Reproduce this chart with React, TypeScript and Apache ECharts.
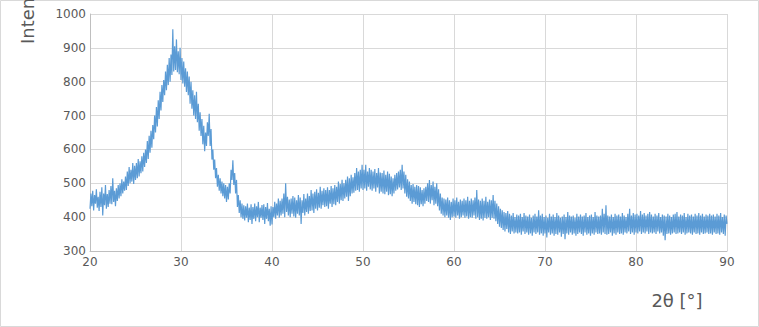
import React, { useEffect, useRef } from "react";
import * as echarts from "echarts";

const startAngle = 20;
const stepAngle = 0.1;

const int20s = [
  425, 470, 432, 478, 420, 465, 440, 482, 428, 460,
  418, 475, 430, 488, 405, 470, 435, 495, 425, 468,
  430, 480, 440, 492, 438, 515, 445, 478, 432, 485,
  448, 495, 455, 500, 462, 512, 470, 505, 478, 520,
  480, 535, 492, 548, 500, 540, 505, 560, 498, 552,
  510, 560, 515, 572, 520, 565, 530, 580, 535, 590,
  548, 600, 560, 625, 572, 640, 590, 655, 605, 672,
  630, 700, 650, 725, 668, 745, 690, 770, 715, 790,
  740, 805, 760, 830, 775, 850, 790, 870, 800, 880,
  820, 955, 830, 905, 835, 925, 828, 890, 822, 900,
];
const int30s = [
  805, 870, 795, 860, 785, 840, 770, 830, 760, 815,
  735, 800, 720, 775, 700, 760, 690, 770, 680, 735,
  655, 710, 640, 690, 615, 670, 595, 650, 610, 680,
  640, 705, 610, 660, 570, 600, 540, 570, 515, 545,
  490, 525, 478, 515, 470, 505, 462, 500, 455, 495,
  445, 490, 452, 500, 470, 540, 510, 568, 495, 530,
  470, 510, 430, 465, 412, 450, 400, 440, 395, 435,
  390, 432, 398, 440, 385, 428, 392, 438, 380, 430,
  395, 440, 388, 432, 400, 445, 385, 428, 398, 436,
  392, 438, 380, 430, 395, 442, 388, 425, 375, 432,
];
const int40s = [
  378, 430, 400, 445, 395, 440, 405, 455, 398, 448,
  405, 455, 410, 470, 400, 500, 415, 460, 405, 452,
  400, 455, 410, 462, 402, 458, 398, 450, 410, 465,
  405, 458, 380, 450, 412, 468, 405, 455, 415, 470,
  410, 462, 418, 480, 420, 470, 412, 475, 425, 482,
  420, 472, 428, 490, 425, 478, 435, 485, 430, 480,
  432, 488, 425, 480, 440, 492, 430, 485, 438, 495,
  435, 490, 445, 505, 440, 498, 450, 510, 448, 500,
  455, 510, 460, 520, 448, 515, 462, 525, 470, 518,
  472, 530, 478, 545, 480, 535, 475, 540, 485, 555,
];
const int50s = [
  480, 540, 485, 555, 478, 535, 490, 545, 482, 540,
  478, 535, 485, 542, 475, 530, 488, 545, 470, 532,
  475, 530, 470, 538, 468, 525, 475, 535, 465, 528,
  468, 520, 462, 515, 470, 525, 478, 530, 482, 535,
  488, 540, 480, 555, 485, 535, 470, 525, 460, 512,
  455, 505, 448, 495, 440, 498, 445, 490, 438, 495,
  435, 492, 430, 488, 438, 480, 432, 485, 440, 490,
  448, 500, 445, 510, 440, 495, 450, 505, 435, 490,
  440, 500, 432, 482, 420, 470, 410, 458, 405, 455,
  400, 452, 405, 458, 398, 450, 392, 445, 400, 455,
];
const int60s = [
  402, 450, 398, 458, 405, 445, 395, 452, 400, 448,
  405, 455, 398, 450, 402, 460, 395, 448, 400, 455,
  398, 450, 405, 458, 395, 480, 400, 452, 392, 448,
  395, 455, 390, 448, 398, 460, 395, 445, 400, 452,
  392, 450, 398, 465, 395, 448, 388, 440, 380, 432,
  372, 425, 368, 420, 362, 415, 358, 412, 365, 418,
  355, 410, 350, 405, 358, 412, 352, 400, 355, 408,
  352, 405, 355, 410, 348, 400, 358, 412, 350, 405,
  355, 402, 348, 408, 352, 398, 345, 405, 355, 410,
  350, 402, 355, 420, 348, 405, 352, 410, 345, 400,
];
const int70s = [
  352, 405, 340, 398, 355, 410, 348, 402, 352, 408,
  345, 400, 350, 412, 348, 405, 355, 398, 342, 402,
  350, 408, 335, 400, 352, 415, 348, 405, 355, 402,
  348, 405, 352, 398, 345, 410, 350, 402, 355, 408,
  350, 402, 345, 405, 355, 412, 348, 400, 352, 405,
  345, 408, 352, 400, 348, 415, 355, 405, 350, 402,
  352, 405, 348, 425, 355, 410, 350, 435, 348, 405,
  350, 402, 355, 408, 345, 400, 352, 410, 348, 405,
  355, 408, 350, 402, 352, 412, 348, 405, 355, 400,
  352, 410, 358, 425, 350, 405, 355, 412, 348, 408,
];
const int80s = [
  355, 410, 352, 405, 358, 418, 350, 408, 355, 412,
  352, 405, 358, 410, 350, 415, 355, 408, 352, 402,
  355, 410, 350, 405, 358, 412, 352, 400, 355, 408,
  345, 405, 332, 402, 350, 410, 352, 405, 348, 400,
  352, 408, 355, 410, 350, 415, 352, 402, 355, 408,
  350, 405, 355, 412, 348, 400, 352, 410, 355, 405,
  352, 408, 348, 402, 355, 410, 350, 405, 352, 412,
  348, 405, 355, 410, 350, 402, 352, 408, 355, 405,
  350, 410, 352, 405, 348, 408, 355, 402, 350, 410,
  352, 405, 348, 412, 355, 400, 350, 408, 345, 405,
  380,
];

const xTicks = { min: 20, max: 90, interval: 10 };
const yTicks = { min: 300, max: 1000, interval: 100 };

export default function App() {
  const ref = useRef<HTMLDivElement>(null);
  useEffect(() => {
    if (!ref.current) return;
    const chart = echarts.init(ref.current, null, { renderer: "svg" });
    const all = [...int20s, ...int30s, ...int40s, ...int50s, ...int60s, ...int70s, ...int80s];
    const data = all.map((v, i) => [+(startAngle + i * stepAngle).toFixed(2), v]);
    const font = "DejaVu Sans";
    chart.setOption({
      animation: false,
      backgroundColor: "#ffffff",
      grid: { left: 90, right: 32, top: 14, bottom: 76, containLabel: false },
      xAxis: {
        type: "value",
        min: xTicks.min,
        max: xTicks.max,
        interval: xTicks.interval,
        axisLine: { show: true, lineStyle: { color: "#bfbfbf", width: 1 } },
        axisTick: { show: false },
        axisLabel: { color: "#595959", fontSize: 12, fontFamily: font, margin: 5, formatter: (v: number) => String(v) },
        splitLine: { show: true, lineStyle: { color: "#d9d9d9", width: 1 } },
      },
      yAxis: {
        type: "value",
        min: yTicks.min,
        max: yTicks.max,
        interval: yTicks.interval,
        axisLine: { show: true, lineStyle: { color: "#bfbfbf", width: 1 } },
        axisTick: { show: false },
        axisLabel: { color: "#595959", fontSize: 12, fontFamily: font, margin: 4, formatter: (v: number) => String(v) },
        splitLine: { show: true, lineStyle: { color: "#d9d9d9", width: 1 } },
      },
      series: [
        {
          type: "line",
          data,
          showSymbol: false,
          symbol: "none",
          lineStyle: { color: "#5b9bd5", width: 1.2 },
          itemStyle: { color: "#5b9bd5" },
        },
      ],
      graphic: [
        {
          type: "rect",
          shape: { x: 0.5, y: 0.5, width: 758, height: 326 },
          style: { fill: "none", stroke: "#d9d9d9", lineWidth: 1 },
          silent: true,
        },
        {
          type: "text",
          x: 27,
          y: 44,
          rotation: Math.PI / 2,
          style: {
            text: "Intensity",
            fill: "#595959",
            fontSize: 18,
            fontFamily: font,
            textAlign: "left",
            textVerticalAlign: "middle",
          },
        },
        {
          type: "text",
          x: 677,
          y: 300,
          style: {
            text: "2θ [°]",
            fill: "#595959",
            fontSize: 18,
            fontFamily: font,
            textAlign: "center",
            textVerticalAlign: "middle",
          },
        },
      ],
    });
    return () => chart.dispose();
  }, []);
  return (
    <div
      ref={ref}
      style={{ position: "fixed", left: 0, top: 0, width: 759, height: 327 }}
    />
  );
}
